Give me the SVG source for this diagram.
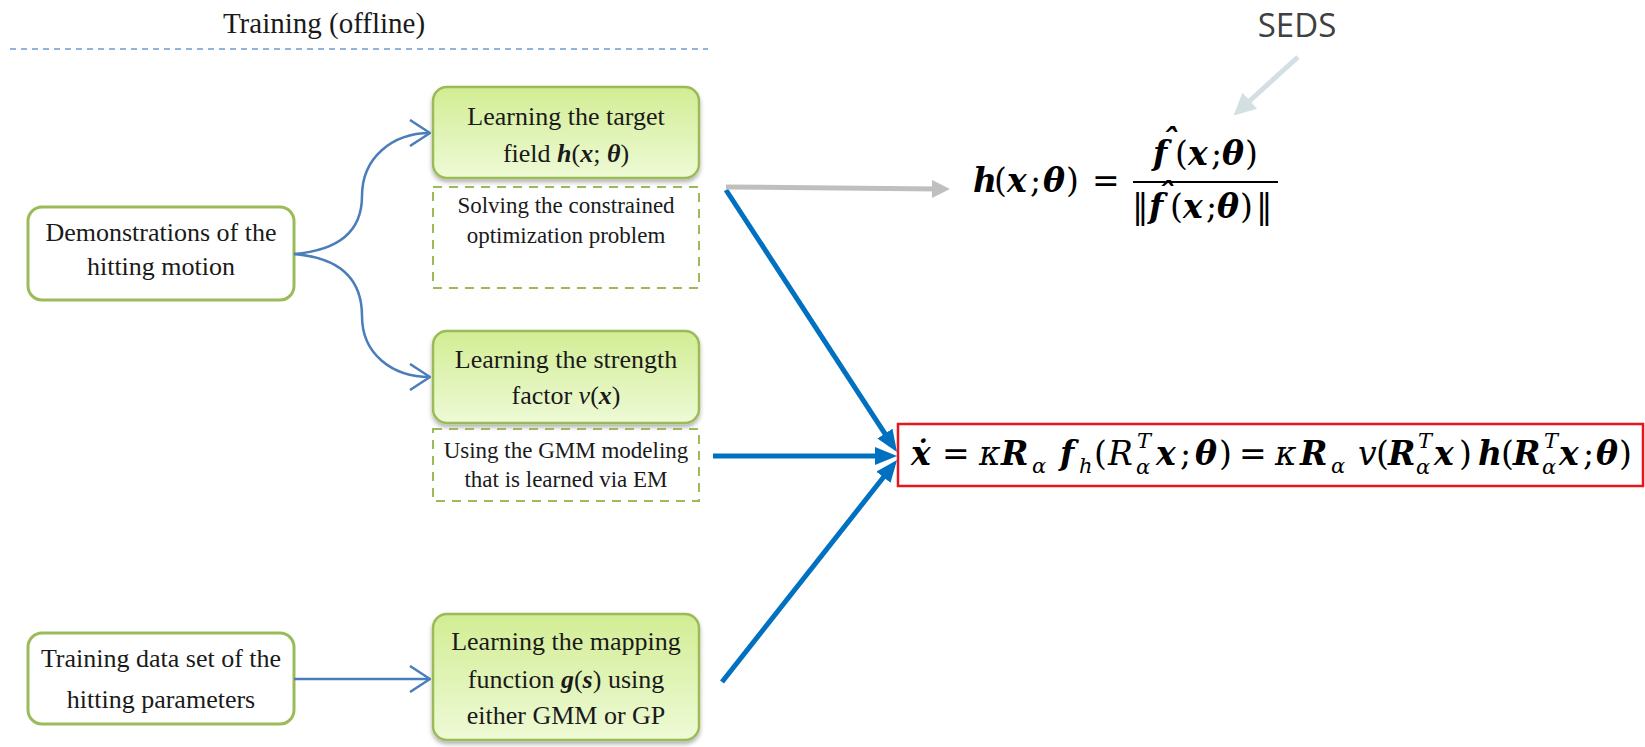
<svg xmlns="http://www.w3.org/2000/svg" width="1645" height="747" viewBox="0 0 1645 747">
<style>
.t{font-family:"Liberation Serif","DejaVu Serif",serif;fill:#1a1a1a;text-anchor:middle}
.b{font-size:26px}
.s{font-size:23px}
.m{font-family:"DejaVu Serif","Liberation Serif",serif;font-size:33px;fill:#000}
.bi{font-weight:bold;font-style:italic}
.i{font-style:italic}
.sb{font-size:21px}
.wbox{fill:#fff;stroke:#9bbb59;stroke-width:3}
.gbox{fill:url(#gg);stroke:#9bbb59;stroke-width:2.5;filter:url(#sh)}
.dbox{fill:none;stroke:#9bbb59;stroke-width:2;stroke-dasharray:9 7}
.thin{fill:none;stroke:#4a7ebb;stroke-width:2.5}
.thick{fill:none;stroke:#0070c0;stroke-width:5}
</style>
<defs>
<linearGradient id="gg" x1="0" y1="0" x2="0" y2="1">
<stop offset="0" stop-color="#d2ed94"/>
<stop offset="1" stop-color="#eefad6"/>
</linearGradient>
<filter id="sh" x="-10%" y="-10%" width="120%" height="130%">
<feDropShadow dx="0" dy="3" stdDeviation="2" flood-color="#000" flood-opacity="0.3"/>
</filter>
<marker id="open" viewBox="0 0 22 28" refX="21" refY="14" markerWidth="22" markerHeight="28" markerUnits="userSpaceOnUse" orient="auto">
<path d="M1,1 L21,14 L1,27" fill="none" stroke="#4a7ebb" stroke-width="2.5"/>
</marker>
<marker id="blue" viewBox="0 0 22 18" refX="14" refY="9" markerWidth="22" markerHeight="18" markerUnits="userSpaceOnUse" orient="auto">
<path d="M0,0 L22,9 L0,18 Z" fill="#0070c0"/>
</marker>
<marker id="gray" viewBox="0 0 18 18" refX="6" refY="9" markerWidth="18" markerHeight="18" markerUnits="userSpaceOnUse" orient="auto">
<path d="M0,0 L18,9 L0,18 Z" fill="#bfbfbf"/>
</marker>
<marker id="seds" viewBox="0 0 22 22" refX="8" refY="11" markerWidth="22" markerHeight="22" markerUnits="userSpaceOnUse" orient="auto">
<path d="M0,0 L22,11 L0,22 Z" fill="#d3dfe3"/>
</marker>
</defs>
<rect width="1645" height="747" fill="#fff"/>

<g id="header">
<text class="t" x="324" y="33" style="font-size:29px">Training (offline)</text>
<line x1="10" y1="49" x2="708" y2="49" stroke="#6f9bd1" stroke-width="1.5" stroke-dasharray="6 5"/>
</g>

<g id="demo">
<rect class="wbox" x="28" y="207" width="266" height="93" rx="14"/>
<text class="t b" x="161" y="241">Demonstrations of the</text>
<text class="t b" x="161" y="275">hitting motion</text>
</g>

<g id="target">
<rect class="gbox" x="433" y="87" width="266" height="91" rx="14"/>
<text class="t b" x="566" y="125">Learning the target</text>
<text class="t b" x="566" y="162">field <tspan class="bi">h</tspan>(<tspan class="bi">x</tspan>; <tspan class="bi">θ</tspan>)</text>
</g>

<g id="target-note">
<rect class="dbox" x="433" y="187" width="266" height="101"/>
<text class="t s" x="566" y="213">Solving the constrained</text>
<text class="t s" x="566" y="243">optimization problem</text>
</g>

<g id="strength">
<rect class="gbox" x="433" y="331" width="266" height="92" rx="14"/>
<text class="t b" x="566" y="368">Learning the strength</text>
<text class="t b" x="566" y="404">factor <tspan class="i">v</tspan>(<tspan class="bi">x</tspan>)</text>
</g>

<g id="strength-note">
<rect class="dbox" x="433" y="429" width="266" height="72"/>
<text class="t s" x="566" y="458">Using the GMM modeling</text>
<text class="t s" x="566" y="487">that is learned via EM</text>
</g>

<g id="traindata">
<rect class="wbox" x="28" y="633" width="266" height="91" rx="14"/>
<text class="t b" x="161" y="667">Training data set of the</text>
<text class="t b" x="161" y="708">hitting parameters</text>
</g>

<g id="mapping">
<rect class="gbox" x="433" y="614" width="266" height="126" rx="14"/>
<text class="t b" x="566" y="650">Learning the mapping</text>
<text class="t b" x="566" y="688">function <tspan class="bi">g</tspan>(<tspan class="bi">s</tspan>) using</text>
<text class="t b" x="566" y="724">either GMM or GP</text>
</g>

<g id="seds-label">
<text x="1297" y="37" style="font-family:'Open Sans','Noto Sans',sans-serif;font-size:33px;fill:#404040;text-anchor:middle">SEDS</text>
</g>

<g id="h-formula">
<text class="m">
<tspan class="bi" x="973" y="192">h</tspan><tspan x="994" y="192">(</tspan><tspan class="bi" x="1007" y="192">x</tspan><tspan x="1030" y="192">;</tspan><tspan class="bi" x="1043" y="192">θ</tspan><tspan x="1066" y="192">)</tspan><tspan x="1092" y="192">=</tspan>
<tspan class="bi" x="1153" y="165">f</tspan><tspan class="bi" x="1162" y="153">ˆ</tspan><tspan x="1175" y="165">(</tspan><tspan class="bi" x="1188" y="165">x</tspan><tspan x="1211" y="165">;</tspan><tspan class="bi" x="1222" y="165">θ</tspan><tspan x="1245" y="165">)</tspan>
<tspan x="1132" y="218">‖</tspan><tspan class="bi" x="1149" y="218">f</tspan><tspan class="bi" x="1158" y="207">ˆ</tspan><tspan x="1170" y="218">(</tspan><tspan class="bi" x="1183" y="218">x</tspan><tspan x="1206" y="218">;</tspan><tspan class="bi" x="1217" y="218">θ</tspan><tspan x="1240" y="218">)</tspan><tspan x="1256" y="218">‖</tspan>
</text>
<line x1="1133" y1="182" x2="1278" y2="182" stroke="#000" stroke-width="2"/>
</g>

<g id="main-formula">
<rect x="898" y="424" width="745" height="62" fill="#fff" stroke="#e8141e" stroke-width="2.5"/>
<text class="m">
<tspan class="bi" x="911" y="465">ẋ</tspan><tspan x="942" y="465">=</tspan><tspan class="i" x="979" y="465">κ</tspan><tspan class="bi" x="1001" y="465">R</tspan><tspan class="i sb" x="1032" y="473">α</tspan>
<tspan class="bi" x="1060" y="465">f</tspan><tspan class="i sb" x="1079" y="473">h</tspan><tspan x="1094" y="465">(</tspan><tspan class="i" x="1108" y="465">R</tspan><tspan class="i sb" x="1137" y="448">T</tspan><tspan class="i sb" x="1136" y="474">α</tspan><tspan class="bi" x="1156" y="465">x</tspan><tspan x="1180" y="465">;</tspan><tspan class="bi" x="1195" y="465">θ</tspan><tspan x="1219" y="465">)</tspan>
<tspan x="1239" y="465">=</tspan><tspan class="i" x="1275" y="465">κ</tspan><tspan class="bi" x="1300" y="465">R</tspan><tspan class="i sb" x="1331" y="473">α</tspan>
<tspan class="i" x="1358" y="465">v</tspan><tspan x="1376" y="465">(</tspan><tspan class="bi" x="1388" y="465">R</tspan><tspan class="i sb" x="1418" y="448">T</tspan><tspan class="i sb" x="1416" y="474">α</tspan><tspan class="bi" x="1434" y="465">x</tspan><tspan x="1459" y="465">)</tspan>
<tspan class="bi" x="1478" y="465">h</tspan><tspan x="1501" y="465">(</tspan><tspan class="bi" x="1513" y="465">R</tspan><tspan class="i sb" x="1544" y="448">T</tspan><tspan class="i sb" x="1542" y="474">α</tspan><tspan class="bi" x="1559" y="465">x</tspan><tspan x="1583" y="465">;</tspan><tspan class="bi" x="1596" y="465">θ</tspan><tspan x="1619" y="465">)</tspan>
</text>
</g>

<g id="connectors">
<path class="thin" d="M294,254 C343,250 362,228 362,196 C362,158 392,133 430,133" marker-end="url(#open)"/>
<path class="thin" d="M294,254 C343,258 362,282 362,316 C362,354 392,377 430,377" marker-end="url(#open)"/>
<path class="thin" d="M294,679 L430,679" marker-end="url(#open)"/>
<path class="thick" d="M726,190 L892.6,445.3" marker-end="url(#blue)"/>
<path class="thick" d="M713,456 L889,456" marker-end="url(#blue)"/>
<path class="thick" d="M722,682 L892.1,466.3" marker-end="url(#blue)"/>
<path d="M726,187 L938,189" fill="none" stroke="#bfbfbf" stroke-width="5" marker-end="url(#gray)"/>
<path d="M1298,57 L1244,106" fill="none" stroke="#d3dfe3" stroke-width="5" marker-end="url(#seds)"/>
</g>
</svg>
